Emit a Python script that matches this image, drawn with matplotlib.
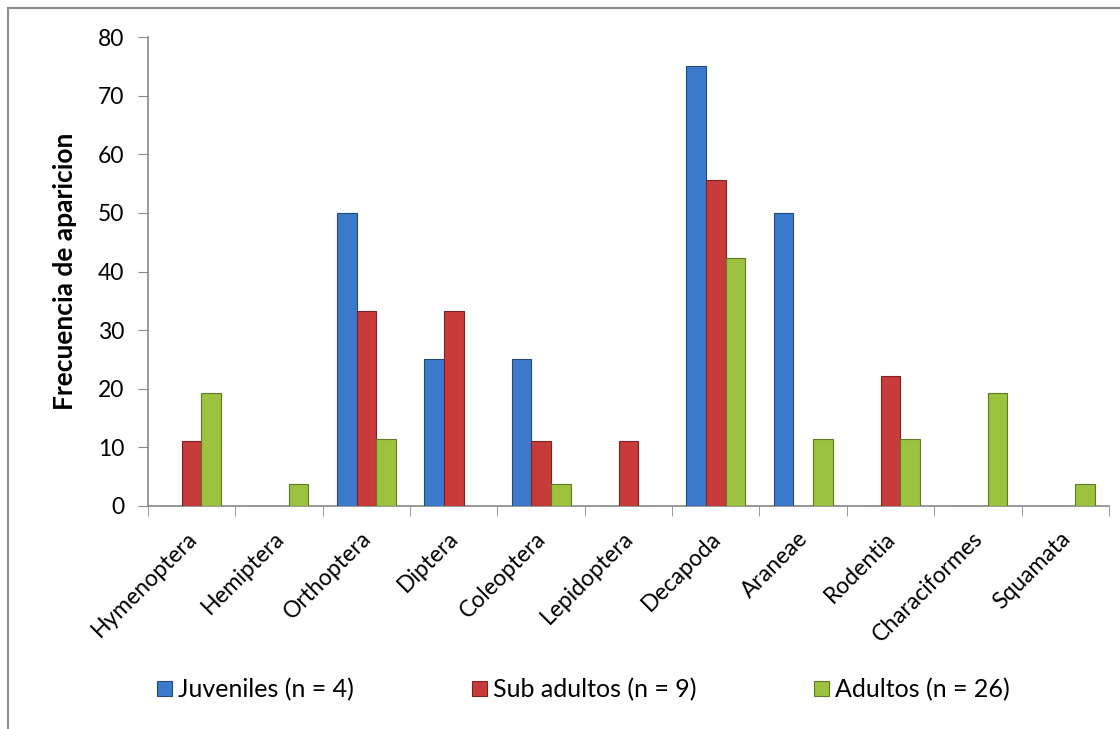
import numpy as np
import matplotlib.pyplot as plt
from matplotlib.lines import Line2D

plt.rcParams['font.family'] = ['Lato', 'DejaVu Sans']

# data
categorias = ['Hymenoptera', 'Hemiptera', 'Orthoptera', 'Diptera', 'Coleoptera',
              'Lepidoptera', 'Decapoda', 'Araneae', 'Rodentia', 'Characiformes', 'Squamata']
juveniles = [0, 0, 50, 25, 25, 0, 75, 50, 0, 0, 0]
sub_adultos = [11.1, 0, 33.3, 33.3, 11.1, 11.1, 55.6, 0, 22.2, 0, 0]
adultos = [19.2, 3.8, 11.5, 0, 3.8, 0, 42.3, 11.5, 11.5, 19.2, 3.8]
series = ['Juveniles (n = 4)', 'Sub adultos (n = 9)', 'Adultos (n = 26)']

colores = ['#3c7acb', '#c83b3b', '#9cc23f']
bordes = ['#24497a', '#7c2222', '#5e7a22']

fig = plt.figure(figsize=(11.2, 7.29), dpi=100)
ax = fig.add_axes([0.1321, 0.3059, 0.8580, 0.6433])

x = np.arange(len(categorias))
w = 0.225
for i, vals in enumerate([juveniles, sub_adultos, adultos]):
    ax.bar(x + (i - 1) * w, vals, w, color=colores[i], edgecolor=bordes[i],
           linewidth=0.8, label=series[i], zorder=3)

ax.set_xlim(-0.5, len(categorias) - 0.5)
ax.set_ylim(0, 80)
ax.set_yticks(range(0, 81, 10))
ax.tick_params(axis='y', labelsize=16.5, length=7, color='#888888', pad=10)

# category ticks sit between groups
ax.set_xticks(x + 0.02)
ax.set_xticklabels(categorias, rotation=45, ha='right', va='center',
                   rotation_mode='anchor', fontsize=16.5)
ax.tick_params(axis='x', which='major', length=0, pad=21)
ax.set_xticks(np.arange(-0.5, len(categorias)), minor=True)
ax.tick_params(axis='x', which='minor', length=7, color='#888888')

for s in ['top', 'right']:
    ax.spines[s].set_visible(False)
for s in ['left', 'bottom']:
    ax.spines[s].set_color('#888888')
    ax.spines[s].set_linewidth(1.2)

ax.set_ylabel('Frecuencia de aparicion', fontsize=19, fontweight='bold', labelpad=15)

ax.legend(loc='center', bbox_to_anchor=(0.521, 0.054), bbox_transform=fig.transFigure,
          ncol=3, frameon=False, fontsize=18, handlelength=0.6, handleheight=0.6,
          handletextpad=0.25, columnspacing=4.7)

# outer chart border (cut off at right and bottom)
fig.add_artist(Line2D([8 / 1120, 8 / 1120], [0, 1 - 8 / 729], color='#8c8c8c', lw=1.5))
fig.add_artist(Line2D([8 / 1120, 1], [1 - 8 / 729, 1 - 8 / 729], color='#8c8c8c', lw=1.5))

fig.savefig('out.png', dpi=100)
